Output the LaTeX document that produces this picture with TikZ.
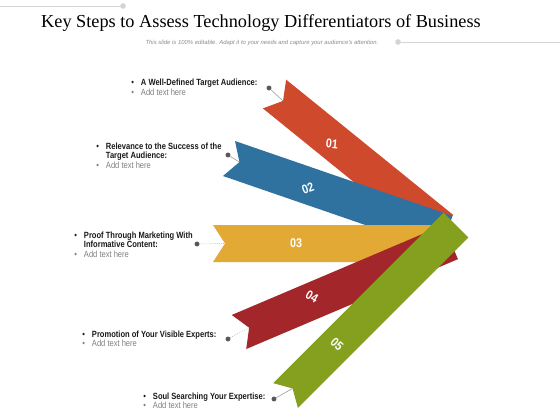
\documentclass[tikz,border=0pt]{standalone}
\usepackage{fontspec}
\newfontfamily\titlefont{Liberation Serif}
\newfontfamily\notefont[FakeStretch=0.84]{Liberation Sans}
\newfontfamily\numfont[FakeStretch=0.85]{Liberation Sans}
\newfontfamily\subfont{Liberation Sans}

\definecolor{ribbonA}{HTML}{CF4A2C}
\definecolor{ribbonB}{HTML}{2F72A0}
\definecolor{ribbonC}{HTML}{E3A935}
\definecolor{ribbonD}{HTML}{A3262A}
\definecolor{ribbonE}{HTML}{84A01E}
\definecolor{notegray}{HTML}{808080}
\definecolor{linegray}{HTML}{D4D4D4}

\tikzset{
  ribbonnum/.style={text=white, inner sep=0pt, font=\numfont\bfseries\fontsize{9}{9}\selectfont},
  leader/.style={draw=gray!80, line width=0.4pt},
  tipdot/.style={circle, fill=black!65, inner sep=0pt, minimum size=3.5pt},
  decodot/.style={circle, fill=linegray, inner sep=0pt, minimum size=4pt},
  stepnote/.style={anchor=base west, inner sep=0pt, align=left, text=black!90,
    font=\notefont\fontsize{6.4}{7}\selectfont},
}

\begin{document}
\begin{tikzpicture}[x=0.025cm,y=-0.025cm]
  \useasboundingbox[fill=white] (0,0) rectangle (560,420);

  % header
  \coordinate (g0) at (0,6);
  \node[decodot] (g1) at (123,6) {};
  \draw[linegray] (g0) -- (g1);
  \node[decodot] (g2) at (398,42) {};
  \coordinate (g3) at (560,42);
  \draw[linegray] (g2) -- (g3);
  \node[font=\titlefont\fontsize{13}{15}\selectfont] (title) at (261,23)
    {Key Steps to Assess Technology Differentiators of Business};
  \node[font=\subfont\itshape\fontsize{4.2}{5}\selectfont, text=black!45] (sub) at (262,43)
    {This slide is 100\% editable. Adapt it to your needs and capture your audience's attention.};

  % ribbons
  \begin{scope}[shift={(274.5,94)},rotate=-39]
    \fill[ribbonA] (0,-18.5) -- (215,-18.5) -- (215,18.5) -- (0,18.5) -- (11,0) -- cycle;
    \coordinate (n1) at (11,0);
  \end{scope}
  \begin{scope}[shift={(229,158.5)},rotate=-19]
    \fill[ribbonB] (0,-18.5) -- (230,-18.5) -- (230,18.5) -- (0,18.5) -- (11,0) -- cycle;
    \coordinate (n2) at (11,0);
  \end{scope}
  \begin{scope}[shift={(213,243.5)}]
    \fill[ribbonC] (0,-18.5) -- (236,-18.5) -- (236,18.5) -- (0,18.5) -- (12,0) -- cycle;
    \coordinate (n3) at (12,0);
  \end{scope}
  \begin{scope}[shift={(239,332)},rotate=23]
    \fill[ribbonD] (0,-18.5) -- (230,-18.5) -- (230,18.5) -- (0,18.5) -- (11,0) -- cycle;
    \coordinate (n4) at (11,0);
  \end{scope}
  \begin{scope}[shift={(285.5,395.5)},rotate=45]
    \fill[ribbonE] (0,-17.5) -- (241,-17.5) -- (241,17.5) -- (0,17.5) -- (10,0) -- cycle;
    \coordinate (n5) at (10,0);
  \end{scope}

  \node[ribbonnum, rotate=-5] (r1) at (332,144) {01};
  \node[ribbonnum, rotate=20] (r2) at (308,188) {02};
  \node[ribbonnum] (r3) at (296,243) {03};
  \node[ribbonnum, rotate=-30] (r4) at (312,297) {04};
  \node[ribbonnum, rotate=-42] (r5) at (337,344) {05};

  % notes
  \node[stepnote] (s1) at (131,86) {\begin{tabular}[t]{@{}l@{\hspace{5pt}}l@{}}
    \textbullet & \textbf{A Well-Defined Target Audience:}\\
    \textcolor{notegray}{\textbullet} & \textcolor{notegray}{Add text here}\end{tabular}};
  \node[stepnote] (s2) at (96,149) {\begin{tabular}[t]{@{}l@{\hspace{5pt}}l@{}}
    \textbullet & \textbf{Relevance to the Success of the}\\
    & \textbf{Target Audience:}\\
    \textcolor{notegray}{\textbullet} & \textcolor{notegray}{Add text here}\end{tabular}};
  \node[stepnote] (s3) at (74,238) {\begin{tabular}[t]{@{}l@{\hspace{5pt}}l@{}}
    \textbullet & \textbf{Proof Through Marketing With}\\
    & \textbf{Informative Content:}\\
    \textcolor{notegray}{\textbullet} & \textcolor{notegray}{Add text here}\end{tabular}};
  \node[stepnote] (s4) at (82,337) {\begin{tabular}[t]{@{}l@{\hspace{5pt}}l@{}}
    \textbullet & \textbf{Promotion of Your Visible Experts:}\\
    \textcolor{notegray}{\textbullet} & \textcolor{notegray}{Add text here}\end{tabular}};
  \node[stepnote] (s5) at (143,399) {\begin{tabular}[t]{@{}l@{\hspace{5pt}}l@{}}
    \textbullet & \textbf{Soul Searching Your Expertise:}\\
    \textcolor{notegray}{\textbullet} & \textcolor{notegray}{Add text here}\end{tabular}};

  % leaders
  \node[tipdot] (d1) at (269,88) {};
  \node[tipdot] (d2) at (228,155) {};
  \node[tipdot] (d3) at (197,244) {};
  \node[tipdot] (d4) at (228,339) {};
  \node[tipdot] (d5) at (274,399) {};
  \draw[leader] (d1) -- (n1);
  \draw[leader] (d2) -- (n2);
  \draw[leader, densely dotted] (d3) -- (n3);
  \draw[leader, densely dotted] (d4) -- (n4);
  \draw[leader] (d5) -- (n5);
\end{tikzpicture}
\end{document}
